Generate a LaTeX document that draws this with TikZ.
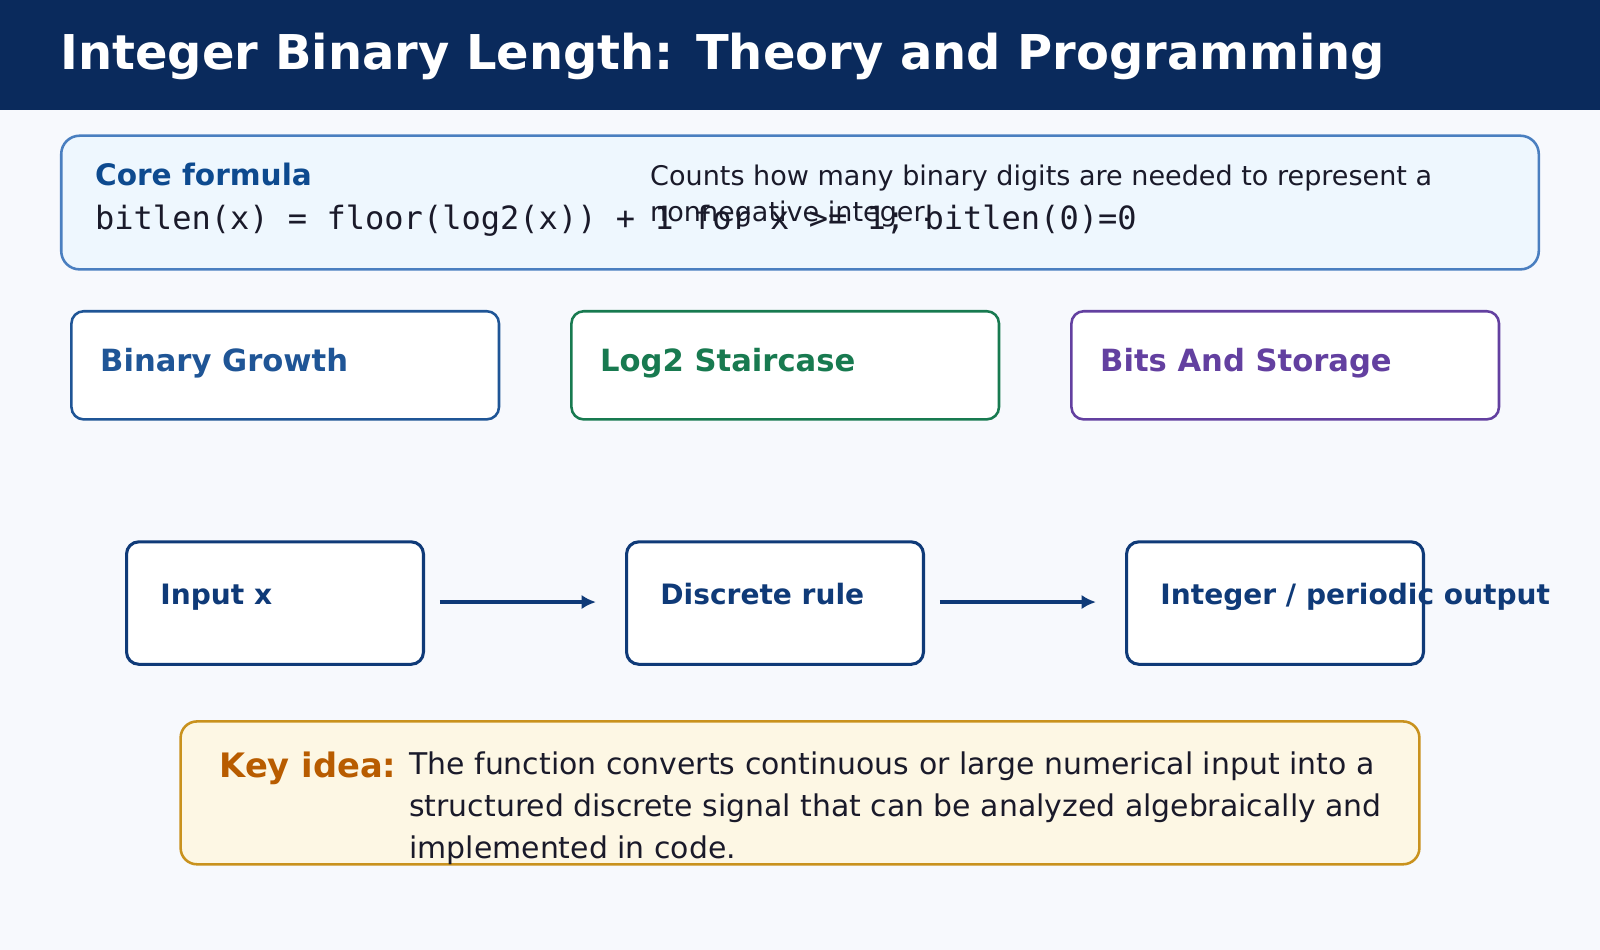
\documentclass[tikz,border=0pt]{standalone}
\usepackage{fontspec}
\setmainfont{DejaVu Sans}
\setmonofont{DejaVu Sans Mono}
\usetikzlibrary{arrows.meta}
\definecolor{hdr}{HTML}{0A2A5C}
\definecolor{pagebg}{HTML}{F7F9FD}
\definecolor{corefill}{HTML}{EEF7FE}
\definecolor{coreline}{HTML}{4A7FC0}
\definecolor{coreblue}{HTML}{0D4A8F}
\definecolor{cblue}{HTML}{1F5596}
\definecolor{cgreen}{HTML}{187A50}
\definecolor{cpurple}{HTML}{6340A0}
\definecolor{flow}{HTML}{0F3A78}
\definecolor{keyfill}{HTML}{FDF7E4}
\definecolor{keyline}{HTML}{C9921E}
\definecolor{keyorange}{HTML}{B85C00}
\definecolor{ink}{HTML}{1A1A2A}
\tikzset{
    txt/.style 2 args = {anchor=base west, inner sep=0, font=#2\fontsize{#1}{#1}\selectfont},
    card/.style = {draw=#1, line width=2.5pt, fill=white, rounded corners=12pt},
    flowbox/.style = {draw=flow, line width=3pt, fill=white, rounded corners=12pt},
    flowarrow/.style = {draw=flow, line width=3.5pt, -{Latex[length=14pt,width=14pt]}}
}
\begin{document}
\begin{tikzpicture}[x=1pt,y=-1pt]
    \useasboundingbox (0,0) rectangle (1568,931);
    \fill[pagebg] (0,0) rectangle (1568,931);
    \fill[hdr] (0,0) rectangle (1568,108);
    \node[txt={47}{\bfseries}, text=white] (title) at (59,68) {Integer Binary Length: Theory and Programming};
    % core formula
    \draw[draw=coreline, line width=2.5pt, fill=corefill, rounded corners=18pt] (60,133) rectangle (1508,264);
    \node[txt={29}{\bfseries}, text=coreblue] (corehead) at (93,182) {Core formula};
    \node[txt={31.4}{\ttfamily}, text=ink] (coreeq) at (93,225) {bitlen(x) = floor(log2(x)) + 1 for x >= 1; bitlen(0)=0};
    \node[txt={26.5}{}, text=ink] (coredesc1) at (637,182) {Counts how many binary digits are needed to represent a};
    \node[txt={26.5}{}, text=ink] (coredesc2) at (637,217) {nonnegative integer.};
    % topic cards
    \draw[card=cblue] (70,305) rectangle (489,411);
    \node[txt={30}{\bfseries}, text=cblue] (growth) at (98,364) {Binary Growth};
    \draw[card=cgreen] (560,305) rectangle (979,411);
    \node[txt={30}{\bfseries}, text=cgreen] (stair) at (588,364) {Log2 Staircase};
    \draw[card=cpurple] (1050,305) rectangle (1469,411);
    \node[txt={30}{\bfseries}, text=cpurple] (storage) at (1078,364) {Bits And Storage};
    % flow
    \draw[flowbox] (124,531) rectangle (415,651);
    \node[txt={27.5}{\bfseries}, text=flow] (input) at (157,592) {Input x};
    \draw[flowbox] (614,531) rectangle (905,651);
    \node[txt={27.5}{\bfseries}, text=flow] (rule) at (647,592) {Discrete rule};
    \draw[flowbox] (1104,531) rectangle (1395,651);
    \node[txt={27.5}{\bfseries}, text=flow] (output) at (1137,592) {Integer / periodic output};
    \coordinate (a1s) at (431,590); \coordinate (a1e) at (584,590);
    \coordinate (a2s) at (921,590); \coordinate (a2e) at (1074,590);
    \draw[flowarrow] (a1s) -- (a1e);
    \draw[flowarrow] (a2s) -- (a2e);
    % key idea
    \draw[draw=keyline, line width=2.5pt, fill=keyfill, rounded corners=16pt] (177,707) rectangle (1391,847);
    \node[txt={33}{\bfseries}, text=keyorange] (keyhead) at (215,762) {Key idea:};
    \node[txt={29.3}{}, text=ink] (key1) at (401,759) {The function converts continuous or large numerical input into a};
    \node[txt={29.3}{}, text=ink] (key2) at (401,800) {structured discrete signal that can be analyzed algebraically and};
    \node[txt={29.3}{}, text=ink] (key3) at (401,841) {implemented in code.};
\end{tikzpicture}
\end{document}
